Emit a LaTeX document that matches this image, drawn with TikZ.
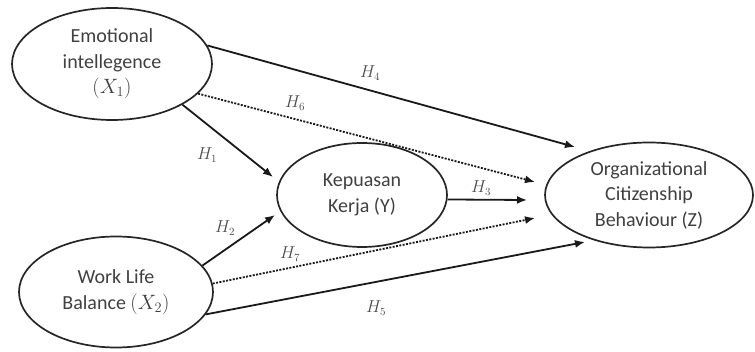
\documentclass[tikz,border=0pt]{standalone}
\usepackage{fontspec}
\setmainfont{Carlito}
\usetikzlibrary{shapes.geometric,arrows.meta}
\begin{document}
\begin{tikzpicture}[x=1pt,y=-1pt,
  var/.style={ellipse,draw=black!85,line width=1.7pt,inner sep=0pt,align=center,
     text=black!75,font=\fontsize{20}{25.5}\selectfont},
  path/.style={line width=1.8pt,draw=black!90,-{Latex[length=10pt,width=8pt]}},
  dotpath/.style={path,dash pattern=on 2pt off 1.4pt},
  hlab/.style={text=black!70,font=\fontsize{16}{18}\selectfont,inner sep=0pt}]
\useasboundingbox (0,0) rectangle (755,352);
\node[var,minimum width=200pt,minimum height=112pt] (e1) at (112,64) {Emotional\\intellegence\\$(X_1)$};
\node[var,minimum width=194pt,minimum height=111pt] (e2) at (116,292) {Work Life\\Balance $(X_2)$};
\node[var,minimum width=170pt,minimum height=104pt] (kep) at (362,195) {Kepuasan\\Kerja (Y)};
\node[var,minimum width=208pt,minimum height=105pt] (ocb) at (649,195) {Organizational\\Citizenship\\Behaviour (Z)};
\coordinate (t4) at (575,147);
\coordinate (t6) at (535,182);
\coordinate (t1) at (273,177);
\coordinate (t3) at (527,200);
\coordinate (t2) at (275,215);
\coordinate (t7) at (535,218);
\coordinate (t5) at (585,242);
\draw[path] (e1.11) -- (t4);
\draw[dotpath] (e1.-19) -- (t6);
\draw[path] (e1.-30) -- (t1);
\draw[path] (kep.-3) -- (t3);
\draw[path] (e2.17) -- (t2);
\draw[dotpath] (e2.5) -- (t7);
\draw[path] (e2.-14) -- (t5);
\node[hlab] (h4) at (370,73) {$H_4$};
\node[hlab] (h6) at (295,103) {$H_6$};
\node[hlab] (h1) at (207,155) {$H_1$};
\node[hlab] (h3) at (481,188) {$H_3$};
\node[hlab] (h2) at (225,228) {$H_2$};
\node[hlab] (h7) at (290,254) {$H_7$};
\node[hlab] (h5) at (376,308) {$H_5$};
\end{tikzpicture}
\end{document}
